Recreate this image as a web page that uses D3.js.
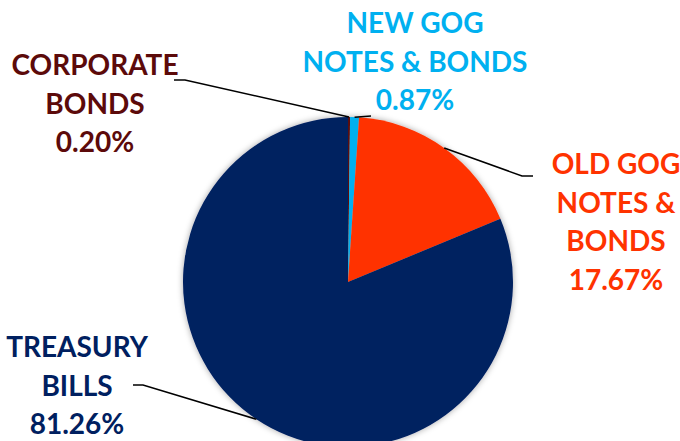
<!DOCTYPE html>
<html>
<head>
<meta charset="utf-8">
<script src="https://cdn.jsdelivr.net/npm/d3@7"></script>
<style>
  html, body { margin: 0; padding: 0; background: #fff; }
  svg { display: block; }
</style>
</head>
<body>
<div id="pie"></div>
<script>
// portfolio shares (%), clockwise from 12 o'clock
var categories = ["CORPORATE BONDS", "NEW GOG NOTES & BONDS", "OLD GOG NOTES & BONDS", "TREASURY BILLS"];
var shares = [0.20, 0.87, 17.67, 81.26];
var colors = ["#5C0A0A", "#00B0F0", "#FF3300", "#002060"];
var labelLines = [
    ["CORPORATE", "BONDS"],
    ["NEW GOG", "NOTES & BONDS"],
    ["OLD GOG", "NOTES &", "BONDS"],
    ["TREASURY", "BILLS"]
];

var width = 680, height = 441;
var cx = 348, cy = 282, radius = 165;
var fontSize = 28, lineGap = 38.5;

// label anchor (centre x, first baseline) and leader elbow / end, per slice
var labelPos = [
    {x: 95, y: 75, elbow: [185, 80], end: [174, 80]},
    {x: 415, y: 33, elbow: null, end: [371, 116]},
    {x: 616, y: 174, elbow: [522, 176], end: [533, 176]},
    {x: 77, y: 357, elbow: [143, 385], end: [133, 385]}
];

var svg = d3.select("#pie").append("svg")
    .attr("width", width).attr("height", height);

var defs = svg.append("defs");
var f = defs.append("filter").attr("id", "shadow")
    .attr("x", "-10%").attr("y", "-10%").attr("width", "120%").attr("height", "120%");
f.append("feDropShadow")
    .attr("dx", 0).attr("dy", 0).attr("stdDeviation", 3)
    .attr("flood-color", "#000").attr("flood-opacity", 0.35);

var pie = d3.pie().sort(null).value(function(d) { return d; });
var arcs = pie(shares);
var arc = d3.arc().innerRadius(0).outerRadius(radius);

var g = svg.append("g")
    .attr("transform", "translate(" + cx + "," + cy + ")");

g.append("g").attr("filter", "url(#shadow)")
    .selectAll("path")
    .data(arcs)
    .enter().append("path")
    .attr("d", arc)
    .attr("fill", function(d, i) { return colors[i]; });

// leader lines
var line = d3.line();
arcs.forEach(function(d, i) {
    var a = (d.startAngle + d.endAngle) / 2;
    var p0 = [cx + radius * Math.sin(a), cy - radius * Math.cos(a)];
    var lp = labelPos[i];
    var pts = [p0];
    if (lp.elbow) pts.push(lp.elbow);
    pts.push(lp.end);
    svg.append("path")
        .attr("d", line(pts))
        .attr("fill", "none")
        .attr("stroke", "#000")
        .attr("stroke-width", 1.5);
});

// labels
var labels = svg.append("g")
    .attr("font-family", "Lato, 'Open Sans', sans-serif")
    .attr("font-weight", "bold")
    .attr("font-size", fontSize)
    .attr("text-anchor", "middle");

categories.forEach(function(c, i) {
    var lp = labelPos[i];
    var lines = labelLines[i].concat([shares[i].toFixed(2) + "%"]);
    var t = labels.append("text")
        .attr("fill", colors[i]);
    lines.forEach(function(s, j) {
        t.append("tspan")
            .attr("x", lp.x)
            .attr("y", lp.y + j * lineGap)
            .text(s);
    });
});
</script>
</body>
</html>
